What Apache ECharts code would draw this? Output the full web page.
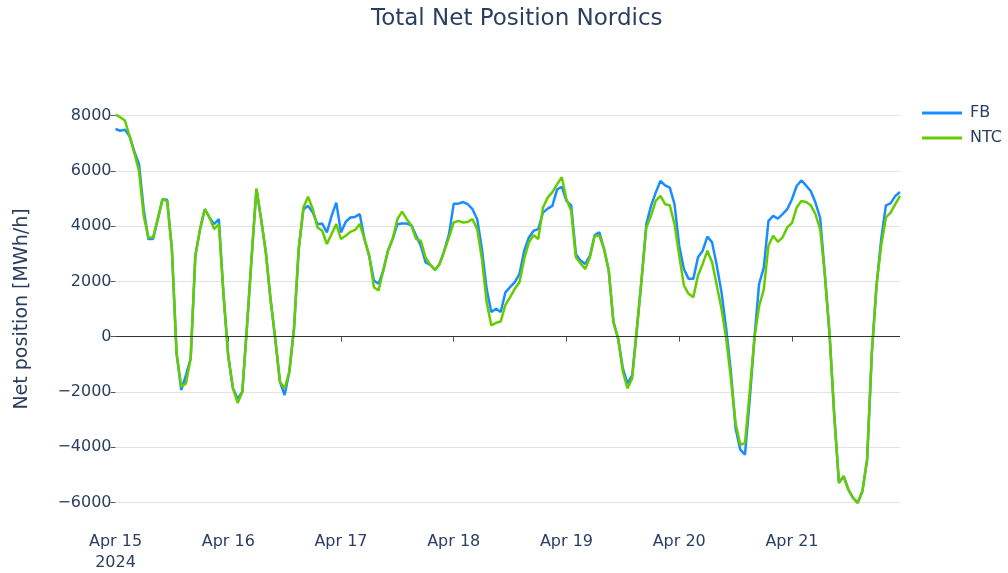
<!DOCTYPE html>
<html>
<head>
<meta charset="utf-8">
<script src="https://cdn.jsdelivr.net/npm/echarts@6/dist/echarts.min.js"></script>
<style>
  html, body { margin: 0; padding: 0; background: #fff; }
  #chart { width: 1008px; height: 573px; }
</style>
</head>
<body>
<div id="chart"></div>
<script>
// Hourly data, Apr 15 2024 00:00 -> Apr 21 2024 23:00
const startDay = 15;
const hoursCount = 168;
const seriesNames = ['FB', 'NTC'];
const yTicks = [-6000, -4000, -2000, 0, 2000, 4000, 6000, 8000];

const fbValues = [
  7510, 7450, 7490, 7250, 6700, 6250, 4600, 3530, 3530, 4250, 4970, 4950,
  3170, -600, -1930, -1390, -790, 2930, 3890, 4610, 4310, 4070, 4250, 1500,
  -700, -1870, -2250, -1990, 400, 2930, 5350, 4250, 3050, 1370, -70, -1630,
  -2110, -1270, 290, 3170, 4610, 4730, 4490, 4070, 4090, 3770, 4370, 4850,
  3770, 4150, 4310, 4330, 4430, 3530, 2930, 2030, 1910, 2390, 3110, 3530,
  4070, 4090, 4090, 4030, 3650, 3290, 2690, 2600, 2410, 2630, 3110, 3710,
  4810, 4810, 4870, 4790, 4610, 4250, 3170, 1730, 890, 1010, 890, 1600,
  1790, 1970, 2270, 3110, 3590, 3830, 3890, 4490, 4630, 4730, 5330, 5420,
  4910, 4750, 2990, 2750, 2630, 2930, 3670, 3770, 3170, 2390, 530, -70,
  -1150, -1690, -1390, 300, 2090, 4070, 4730, 5210, 5630, 5470, 5390, 4790,
  3290, 2450, 2090, 2090, 2870, 3110, 3620, 3410, 2570, 1610, 290, -1270,
  -3310, -4090, -4270, -2300, -70, 1900, 2500, 4190, 4370, 4270, 4430, 4610,
  4970, 5450, 5650, 5470, 5270, 4850, 4310, 2250, 100, -2830, -5290, -5050,
  -5530, -5830, -6010, -5590, -4450, -600, 1850, 3530, 4750, 4820, 5090, 5230
];

const ntcValues = [
  8030, 7940, 7820, 7250, 6650, 5990, 4370, 3590, 3590, 4250, 4970, 4900,
  3170, -600, -1810, -1690, -790, 2930, 3890, 4610, 4310, 3890, 4070, 1500,
  -700, -1870, -2400, -1990, 400, 2930, 5350, 4250, 3050, 1370, -70, -1630,
  -1870, -1270, 290, 3170, 4670, 5060, 4610, 3950, 3830, 3350, 3710, 4070,
  3530, 3650, 3790, 3860, 4070, 3530, 2930, 1790, 1670, 2390, 3110, 3530,
  4250, 4520, 4250, 4010, 3530, 3470, 2870, 2600, 2410, 2630, 3110, 3590,
  4130, 4190, 4130, 4150, 4250, 3890, 2810, 1250, 410, 500, 550, 1150,
  1430, 1730, 1970, 2810, 3410, 3670, 3530, 4670, 5030, 5230, 5510, 5770,
  4970, 4550, 2870, 2650, 2450, 2870, 3650, 3650, 3170, 2390, 530, -70,
  -1270, -1870, -1510, 300, 2090, 3950, 4370, 4910, 5090, 4790, 4750, 4070,
  2930, 1850, 1550, 1430, 2210, 2630, 3110, 2690, 1850, 1010, -70, -1510,
  -3130, -3910, -3850, -2000, -70, 1100, 1700, 3290, 3650, 3430, 3590, 3950,
  4110, 4670, 4910, 4870, 4750, 4430, 3890, 2250, 100, -2830, -5290, -5050,
  -5530, -5830, -6010, -5590, -4450, -600, 1850, 3300, 4310, 4490, 4790, 5090
];

// categories: hourly timestamps
const categories = [];
for (let i = 0; i < hoursCount; i++) {
  const d = startDay + Math.floor(i / 24);
  const h = i % 24;
  categories.push('2024-04-' + String(d).padStart(2, '0') + ' ' + String(h).padStart(2, '0') + ':00');
}

const FONT = 'DejaVu Sans';
const TXT = '#2a3f5f';

const chart = echarts.init(document.getElementById('chart'), null, { renderer: 'canvas' });
chart.setOption({
  animation: false,
  backgroundColor: '#fff',
  title: {
    text: 'Total Net Position Nordics',
    left: 366,
    top: 3,
    textStyle: { fontFamily: FONT, fontSize: 23, fontWeight: 'normal', color: TXT }
  },
  legend: {
    orient: 'vertical',
    left: 922,
    top: 105,
    padding: 0,
    itemWidth: 40,
    itemHeight: 3,
    itemGap: 9,
    icon: 'rect',
    textStyle: { fontFamily: FONT, fontSize: 16, color: TXT, lineHeight: 16, padding: [0, 0, 0, 3] },
    data: seriesNames
  },
  grid: {
    left: 115.5,
    right: 108,
    top: 115.5,
    bottom: 67.7,
    containLabel: false
  },
  xAxis: {
    type: 'category',
    data: categories,
    boundaryGap: false,
    offset: 16.5,
    axisLine: { show: false },
    axisTick: {
      show: true,
      length: 5,
      lineStyle: { color: '#555', width: 1 },
      interval: function (idx) { return idx % 24 === 0 && idx > 0; }
    },
    axisLabel: {
      interval: function (idx) { return idx % 24 === 0; },
      margin: 12,
      fontFamily: FONT,
      fontSize: 16,
      color: TXT,
      lineHeight: 21,
      formatter: function (val, idx) {
        const day = parseInt(val.slice(8, 10), 10);
        if (idx === 0) return 'Apr ' + day + '\n2024';
        return 'Apr ' + day;
      }
    },
    splitLine: { show: false }
  },
  yAxis: {
    type: 'value',
    min: yTicks[0],
    max: yTicks[yTicks.length - 1],
    interval: 2000,
    name: 'Net position [MWh/h]',
    nameLocation: 'middle',
    nameGap: 84,
    nameTextStyle: { fontFamily: FONT, fontSize: 19, color: TXT },
    axisLine: { show: false },
    axisTick: { show: true, length: 5, lineStyle: { color: '#555', width: 1 } },
    axisLabel: {
      margin: 4,
      fontFamily: FONT,
      fontSize: 16,
      color: TXT,
      formatter: function (v) { return String(v).replace('-', '\u2212'); }
    },
    splitLine: { show: true, lineStyle: { color: '#e2e2e2', width: 1 } }
  },
  series: [
    {
      name: 'FB',
      type: 'line',
      data: fbValues,
      symbol: 'none',
      clip: false,
      color: '#1a8cff',
      lineStyle: { color: '#1a8cff', width: 2.5 },
      markLine: {
        silent: true,
        symbol: 'none',
        label: { show: false },
        lineStyle: { color: '#333', width: 1, type: 'solid' },
        data: [{ yAxis: 0 }]
      },
      z: 2
    },
    {
      name: 'NTC',
      type: 'line',
      data: ntcValues,
      symbol: 'none',
      clip: false,
      color: '#66cc00',
      lineStyle: { color: '#66cc00', width: 2.5 },
      z: 3
    }
  ]
});
</script>
</body>
</html>
